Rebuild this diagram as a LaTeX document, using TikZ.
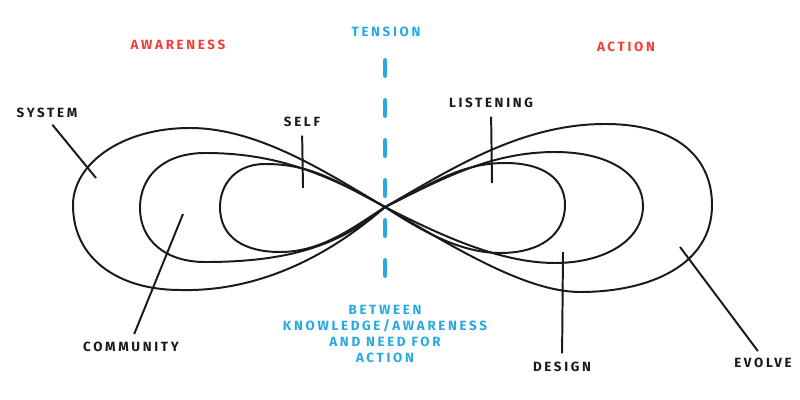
\documentclass[tikz,border=0pt]{standalone}
\usepackage{fontspec}
\usepackage{xcolor}
\usepackage{tikz}

\newfontfamily\diagfont[LetterSpace=20]{Fira Sans}
\definecolor{awarered}{HTML}{EE4037}
\definecolor{tensionblue}{HTML}{27AAE1}
\definecolor{inkblack}{HTML}{1A1A1A}

\begin{document}
\begin{tikzpicture}[x=0.025cm, y=-0.025cm,
    lbl/.style={inner sep=0pt, font=\diagfont\bfseries\fontsize{9.5}{11.4}\selectfont},
    eightline/.style={line width=1.4pt, inkblack},
    leader/.style={line width=1.4pt, inkblack, shorten <=6pt}]
    \useasboundingbox (0,0) rectangle (800,400);

    % Headings
    \node[lbl, text=awarered] (awareness) at (178,45) {AWARENESS};
    \node[lbl, text=tensionblue] (tension) at (386,32) {TENSION};
    \node[lbl, text=awarered] (action) at (626,47) {ACTION};

    % Tension line
    \coordinate (dash-top) at (385,60.5);
    \coordinate (dash-bot) at (385,275.5);
    \draw[tensionblue, line width=3.5pt, line cap=round, dash pattern=on 0.375cm off 0.625cm] (dash-top) -- (dash-bot);
    \node[lbl, text=tensionblue, align=center] (between) at (385,334)
        {BETWEEN\\KNOWLEDGE/AWARENESS\\AND NEED FOR\\ACTION};

    % Figure eights
    \coordinate (cross) at (385,207);
    \draw[eightline] (cross) .. controls (330,175) and (260,128) .. (190,128)
        .. controls (120,128) and (73,165) .. (73,205)
        .. controls (73,260) and (120,290) .. (180,290)
        .. controls (260,292) and (330,255) .. (cross)
        .. controls (450,170) and (520,124) .. (605,124)
        .. controls (680,124) and (712,160) .. (712,205)
        .. controls (712,265) and (650,292) .. (580,292)
        .. controls (525,292) and (450,245) .. (cross);
    \draw[eightline] (cross) .. controls (320,170) and (270,153) .. (205,153)
        .. controls (165,153) and (140,175) .. (140,208)
        .. controls (140,240) and (165,262) .. (205,262)
        .. controls (290,262) and (340,245) .. (cross)
        .. controls (440,180) and (490,152) .. (555,152)
        .. controls (610,152) and (643,175) .. (643,206)
        .. controls (643,240) and (605,263) .. (555,263)
        .. controls (500,263) and (440,235) .. (cross);
    \draw[eightline] (cross) .. controls (335,180) and (310,164) .. (265,164)
        .. controls (235,164) and (220,185) .. (220,207)
        .. controls (220,238) and (245,252) .. (280,252)
        .. controls (320,252) and (350,230) .. (cross)
        .. controls (430,185) and (460,163) .. (505,163)
        .. controls (545,163) and (565,180) .. (565,205)
        .. controls (565,235) and (540,253) .. (500,253)
        .. controls (460,253) and (420,230) .. (cross);

    % Labels
    \node[lbl, text=inkblack] (system) at (47,113) {SYSTEM};
    \node[lbl, text=inkblack] (self) at (302,122) {SELF};
    \node[lbl, text=inkblack] (listening) at (491,103) {LISTENING};
    \node[lbl, text=inkblack] (community) at (131,347) {COMMUNITY};
    \node[lbl, text=inkblack] (design) at (562,367) {DESIGN};
    \node[lbl, text=inkblack] (evolve) at (763,363) {EVOLVE};

    \coordinate (c-system) at (96,178);
    \coordinate (c-self) at (303,188);
    \coordinate (c-listening) at (492,183);
    \coordinate (c-community) at (183,214);
    \coordinate (c-design) at (563,252);
    \coordinate (c-evolve) at (680,247);

    % Leaders
    \draw[leader] (system.south) -- (c-system);
    \draw[leader] (self.south) -- (c-self);
    \draw[leader] (listening.south) -- (c-listening);
    \draw[leader] (community.north) -- (c-community);
    \draw[leader] (design.north) -- (c-design);
    \draw[leader] (evolve.north) -- (c-evolve);
\end{tikzpicture}
\end{document}
